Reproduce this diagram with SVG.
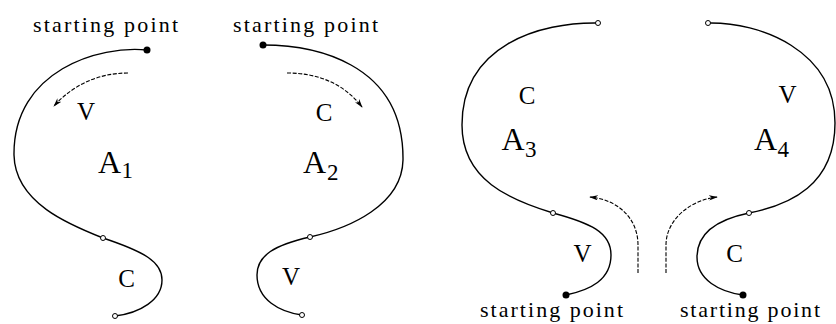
<svg xmlns="http://www.w3.org/2000/svg" width="836" height="324" viewBox="0 0 836 324">
<style>
.curve{fill:none;stroke:#000;stroke-width:1.4}
.dot{fill:#000}
.open{fill:#fff;stroke:#000;stroke-width:1}
.arrow{fill:none;stroke:#000;stroke-width:1.1;stroke-dasharray:4 1.6}
.sp{font-family:"Liberation Serif","Times New Roman",serif;font-size:22px;fill:#000}
.lbl{font-family:"Liberation Serif","Times New Roman",serif;font-size:25px;fill:#000;text-anchor:middle}
.big{font-family:"Liberation Serif","Times New Roman",serif;font-size:32px;fill:#000}
.sub{font-size:23px}
</style>
<defs>
<marker id="ah" viewBox="0 0 10 6" refX="9" refY="3" markerWidth="9" markerHeight="5.4" markerUnits="userSpaceOnUse" orient="auto">
<path d="M0,0 L10,3 L0,6 L3,3 z" fill="#000"/>
</marker>
</defs>
<rect width="836" height="324" fill="#fff"/>

<g id="region-A1">
<path class="curve" d="M147,50 C100,45 13,70 14,155 C15,203 70,225 103,238 C145,252 162,262 162,280 C162,300 140,313 115,316"/>
<circle class="dot" cx="147" cy="50" r="3.5"/>
<circle class="open" cx="103" cy="238" r="2.5"/>
<circle class="open" cx="115" cy="316" r="2.5"/>
<text class="sp" x="33" y="32" textLength="145" lengthAdjust="spacing">starting  point</text>
<text class="lbl" x="86" y="120">V</text>
<text class="big" x="98" y="173">A<tspan class="sub" x="121.5" y="178">1</tspan></text>
<text class="lbl" x="126.5" y="287">C</text>
</g>

<g id="region-A2">
<path class="curve" d="M263,45 C310,45 404,60 403,160 C402,205 350,228 310,237 C275,245 257,255 257,275 C257,300 280,312 302,315"/>
<circle class="dot" cx="263" cy="45" r="3.5"/>
<circle class="open" cx="310" cy="237" r="2.5"/>
<circle class="open" cx="302" cy="315" r="2.5"/>
<text class="sp" x="233" y="32" textLength="145" lengthAdjust="spacing">starting  point</text>
<text class="lbl" x="324" y="121">C</text>
<text class="big" x="303" y="173">A<tspan class="sub" x="327" y="180">2</tspan></text>
<text class="lbl" x="291" y="285">V</text>
</g>

<g id="region-A3">
<path class="curve" d="M598,23 C540,22 462,45 462,125 C462,180 510,200 553,213 C590,223 611,232 611,255 C611,280 590,290 566,295"/>
<circle class="open" cx="598" cy="23" r="2.5"/>
<circle class="open" cx="553" cy="213" r="2.5"/>
<circle class="dot" cx="566" cy="295" r="3.5"/>
<text class="lbl" x="527" y="104">C</text>
<text class="big" x="501.5" y="150">A<tspan class="sub" x="525" y="157">3</tspan></text>
<text class="lbl" x="582.5" y="262">V</text>
<text class="sp" x="480" y="317" textLength="143" lengthAdjust="spacing">starting  point</text>
</g>

<g id="region-A4">
<path class="curve" d="M708,23 C760,22 835,50 835,123 C835,185 790,205 749,213 C715,220 697,235 697,257 C697,280 720,292 743,295"/>
<circle class="open" cx="708" cy="23" r="2.5"/>
<circle class="open" cx="749" cy="213" r="2.5"/>
<circle class="dot" cx="743" cy="295" r="3.5"/>
<text class="lbl" x="787.5" y="103">V</text>
<text class="big" x="754" y="150">A<tspan class="sub" x="777.5" y="157">4</tspan></text>
<text class="lbl" x="734.5" y="262">C</text>
<text class="sp" x="680" y="317" textLength="140" lengthAdjust="spacing">starting  point</text>
</g>

<g id="connectors">
<path class="arrow" d="M128,73 C95,73 70,88 54,106" marker-end="url(#ah)"/>
<path class="arrow" d="M287,73 C320,73 345,85 362,107" marker-end="url(#ah)"/>
<path class="arrow" d="M638,273 L638,245 C638,220 620,200 590,197" marker-end="url(#ah)"/>
<path class="arrow" d="M666,273 L666,245 C666,220 690,200 717,197" marker-end="url(#ah)"/>
</g>
</svg>
